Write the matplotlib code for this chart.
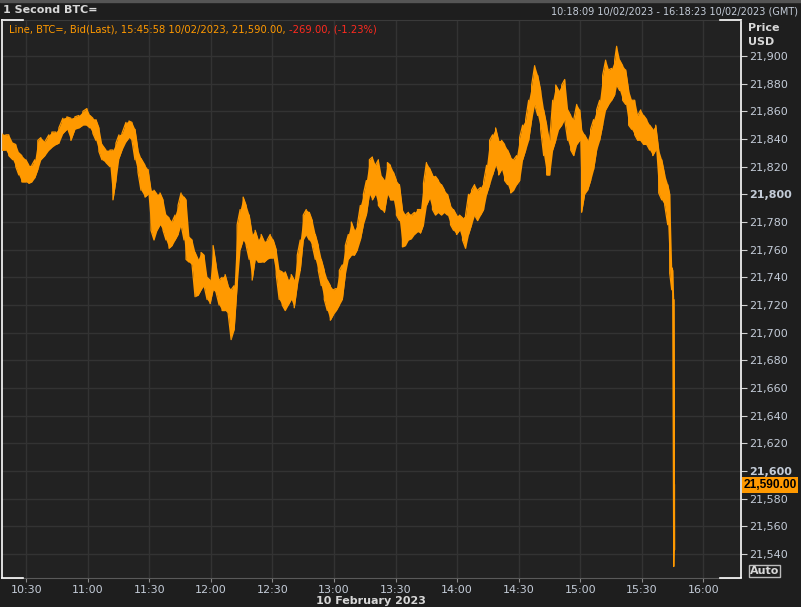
import matplotlib
matplotlib.use("Agg")
import matplotlib.pyplot as plt
import matplotlib.dates as mdates
import matplotlib.ticker as mticker
import matplotlib.transforms as mtransforms
import numpy as np
import pandas as pd

# ---------------- data ----------------
session_day = "2023-02-10"
# minutes after 10:00 GMT
minutes_after_10 = [
    18.04, 19.99, 21.46, 23.41, 24.87, 26.34, 27.80, 29.76, 31.22, 32.68,
    34.15, 35.61, 37.08, 39.03, 40.98, 42.45, 44.40, 45.87, 47.82, 49.77,
    51.72, 53.68, 55.63, 57.58, 59.53, 61.00, 62.46, 63.93, 65.39, 66.86,
    68.81, 70.76, 72.23, 73.69, 75.15, 76.62, 78.57, 80.04, 81.50, 82.97,
    84.43, 85.89, 87.85, 89.31, 90.78, 92.24, 93.71, 95.17, 96.64, 98.10,
    99.57, 101.03, 102.50, 103.96, 105.43, 106.89, 107.86, 109.33, 110.79, 112.26,
    113.72, 115.19, 116.65, 118.12, 119.58, 121.05, 122.51, 123.98, 125.44, 126.91,
    128.37, 129.84, 131.30, 132.77, 134.23, 135.70, 137.16, 138.63, 140.09, 141.56,
    143.02, 144.49, 145.95, 147.42, 148.88, 150.35, 151.81, 153.28, 154.74, 156.21,
    157.67, 159.14, 160.60, 162.07, 163.53, 165.00, 166.46, 167.93, 169.39, 170.86,
    172.32, 173.79, 175.25, 176.72, 178.18, 179.65, 181.11, 182.58, 184.04, 185.51,
    186.97, 188.44, 189.90, 191.37, 192.83, 194.30, 195.76, 197.23, 198.69, 200.16,
    201.62, 203.09, 204.55, 206.02, 207.48, 208.95, 210.41, 211.88, 213.34, 214.81,
    216.27, 217.74, 219.20, 220.67, 222.13, 223.60, 225.06, 226.53, 227.99, 229.46,
    230.92, 232.39, 233.85, 235.32, 236.78, 238.25, 239.71, 241.18, 242.64, 244.11,
    245.57, 247.04, 248.50, 249.97, 251.43, 252.90, 254.36, 255.83, 257.29, 258.76,
    260.22, 261.69, 263.15, 264.62, 266.08, 267.55, 269.01, 270.48, 271.94, 273.41,
    274.87, 276.34, 277.80, 279.27, 280.73, 282.20, 283.66, 285.13, 286.59, 288.06,
    289.52, 290.99, 292.45, 293.92, 295.38, 296.85, 298.31, 299.78, 300.68, 302.15,
    303.61, 305.08, 306.54, 308.01, 309.47, 310.94, 312.40, 313.87, 315.33, 316.80,
    317.77, 319.23, 320.70, 322.16, 323.63, 325.09, 326.56, 328.02, 329.49, 330.95,
    332.42, 333.88, 335.35, 336.81, 338.28, 339.74, 341.21, 342.67, 343.64, 344.62,
    345.11, 345.60, 345.97,
]
price_high = [
    21844, 21843, 21843, 21837, 21836, 21830, 21828, 21825, 21821, 21821,
    21825, 21839, 21841, 21838, 21843, 21845, 21845, 21848, 21855, 21856,
    21855, 21856, 21857, 21860, 21862, 21857, 21855, 21854, 21848, 21836,
    21832, 21832, 21832, 21837, 21843, 21844, 21852, 21853, 21852, 21847,
    21832, 21826, 21821, 21818, 21803, 21803, 21800, 21801, 21796, 21785,
    21783, 21780, 21785, 21792, 21801, 21798, 21796, 21769, 21767, 21758,
    21753, 21758, 21756, 21740, 21738, 21763, 21749, 21738, 21740, 21742,
    21734, 21731, 21734, 21778, 21789, 21798, 21792, 21785, 21771, 21774,
    21767, 21771, 21766, 21767, 21771, 21767, 21760, 21745, 21744, 21744,
    21738, 21742, 21738, 21756, 21767, 21785, 21789, 21787, 21781, 21771,
    21763, 21753, 21745, 21738, 21734, 21731, 21732, 21745, 21749, 21763,
    21771, 21780, 21774, 21778, 21792, 21800, 21810, 21825, 21827, 21821,
    21825, 21813, 21810, 21823, 21821, 21816, 21810, 21807, 21789, 21785,
    21787, 21785, 21787, 21789, 21789, 21808, 21823, 21819, 21814, 21813,
    21810, 21807, 21803, 21800, 21792, 21789, 21785, 21785, 21783, 21785,
    21800, 21803, 21807, 21803, 21805, 21809, 21821, 21839, 21843, 21848,
    21839, 21839, 21836, 21832, 21827, 21825, 21828, 21841, 21850, 21854,
    21868, 21879, 21893, 21886, 21875, 21861, 21850, 21839, 21868, 21879,
    21875, 21879, 21883, 21861, 21857, 21854, 21865, 21861, 21847, 21843,
    21839, 21847, 21854, 21861, 21868, 21886, 21897, 21890, 21891, 21897,
    21907, 21897, 21893, 21890, 21875, 21868, 21868, 21857, 21861, 21857,
    21854, 21850, 21847, 21850, 21832, 21825, 21814, 21807, 21800, 21747,
    21745, 21724, 21590,
]
price_low = [
    21832, 21832, 21828, 21825, 21820, 21814, 21809, 21809, 21808, 21809,
    21812, 21818, 21825, 21828, 21832, 21834, 21836, 21837, 21844, 21847,
    21839, 21847, 21848, 21850, 21850, 21848, 21844, 21839, 21831, 21825,
    21823, 21820, 21796, 21810, 21826, 21832, 21838, 21841, 21839, 21825,
    21816, 21803, 21798, 21800, 21774, 21767, 21774, 21778, 21774, 21767,
    21761, 21763, 21767, 21771, 21778, 21767, 21753, 21751, 21749, 21726,
    21727, 21731, 21734, 21724, 21721, 21731, 21729, 21720, 21716, 21716,
    21714, 21695, 21702, 21734, 21760, 21767, 21763, 21753, 21738, 21753,
    21751, 21751, 21751, 21753, 21754, 21754, 21742, 21724, 21720, 21716,
    21720, 21724, 21718, 21734, 21745, 21767, 21771, 21767, 21763, 21753,
    21745, 21734, 21724, 21716, 21709, 21713, 21716, 21720, 21724, 21742,
    21753, 21756, 21756, 21760, 21767, 21778, 21785, 21800, 21796, 21800,
    21792, 21789, 21787, 21800, 21796, 21796, 21785, 21781, 21762, 21763,
    21767, 21768, 21771, 21773, 21772, 21778, 21792, 21797, 21789, 21785,
    21787, 21785, 21787, 21785, 21778, 21774, 21771, 21774, 21767, 21761,
    21771, 21778, 21785, 21781, 21785, 21789, 21800, 21807, 21814, 21821,
    21814, 21818, 21810, 21807, 21801, 21803, 21807, 21810, 21825, 21832,
    21839, 21854, 21865, 21857, 21847, 21828, 21814, 21814, 21832, 21839,
    21847, 21850, 21854, 21839, 21832, 21828, 21836, 21839, 21787, 21800,
    21803, 21810, 21818, 21832, 21839, 21850, 21861, 21865, 21868, 21872,
    21879, 21875, 21868, 21865, 21850, 21847, 21843, 21839, 21839, 21836,
    21836, 21832, 21828, 21832, 21801, 21796, 21792, 21778, 21743, 21731,
    21724, 21531, 21543,
]
last_price = 21590.00
change_abs = -269.00
change_pct = -1.23
y_ticks = [21540, 21560, 21580, 21600, 21620, 21640, 21660, 21680, 21700,
           21720, 21740, 21760, 21780, 21800, 21820, 21840, 21860, 21880, 21900]
bold_ticks = [21600, 21800]
range_start = "10:18:09"
range_end = "16:18:23"
last_time = "15:45:58"
# -----------------------------------------------------------------

base = pd.Timestamp(session_day + " 10:00:00")
t = base + pd.to_timedelta(np.array(minutes_after_10), unit="min")
tn = mdates.date2num(t.to_pydatetime())
hi = np.array(price_high, float)
lo = np.array(price_low, float)

# jagged trace: alternate between high and low at each sampled time
zx, zy = [], []
for i in range(len(tn)):
    if i == len(tn) - 1:
        zx += [tn[i], tn[i]]
        zy += [lo[i], last_price]
        break
    if i % 2 == 0:
        zx += [tn[i], tn[i]]; zy += [hi[i], lo[i]]
    else:
        zx += [tn[i], tn[i]]; zy += [lo[i], hi[i]]

BG = "#222222"
OUT = "#1e1e1e"
GRID = "#333333"
TXT = "#c4ccd8"
ORANGE = "#ff9900"
RED = "#ff2a1f"
plt.rcParams["font.family"] = ["DejaVu Sans"]

fig = plt.figure(figsize=(8.01, 6.07), dpi=100, facecolor=OUT)
L, R, T, B = 2/801, 741/801, 1-20/607, 1-578/607
ax = fig.add_axes([L, B, R-L, T-B], facecolor=BG)

ax.fill_between(tn, lo, hi, color=ORANGE, linewidth=0, zorder=3)
ax.plot(zx, zy, color=ORANGE, linewidth=0.9, zorder=4)

x0 = mdates.date2num(pd.Timestamp(session_day + " " + range_start).to_pydatetime())
x1 = mdates.date2num(pd.Timestamp(session_day + " " + range_end).to_pydatetime())
ax.set_xlim(x0, x1)
ax.set_ylim(21522.7, 21926.0)

ax.xaxis.set_major_locator(mdates.MinuteLocator(byminute=[0, 30]))
ax.xaxis.set_major_formatter(mdates.DateFormatter("%H:%M"))
ax.yaxis.tick_right()
ax.set_yticks(y_ticks)
ax.yaxis.set_major_formatter(mticker.FuncFormatter(lambda v, p: f"{v:,.0f}"))
ax.grid(True, color=GRID, linewidth=1.0, zorder=0)
ax.set_axisbelow(True)

ax.tick_params(axis="x", colors="#8a8a8a", labelcolor=TXT, labelsize=8, length=3, pad=2, direction="out")
ax.tick_params(axis="y", colors="#d0d0d0", labelcolor=TXT, labelsize=8, length=4, pad=2, direction="out")
fig.canvas.draw()
for v, lab in zip(ax.get_yticks(), ax.get_yticklabels()):
    if v in bold_ticks:
        lab.set_fontweight("bold")

for s in ["left", "right"]:
    ax.spines[s].set_color("white")
    ax.spines[s].set_linewidth(1.2)
ax.spines["top"].set_color("#3a3a3a")
ax.spines["bottom"].set_color("#5a5a5a")

# corner brackets
cw = 21 / (741 - 2)
for xs in ([0, cw], [1 - cw, 1]):
    for yv in (0, 1):
        ax.plot(xs, [yv, yv], color="white", lw=1.2, transform=ax.transAxes, clip_on=False, zorder=6)

# last price tag
trans = mtransforms.blended_transform_factory(ax.transAxes, ax.transData)
ax.text(1.003, last_price, f"{last_price:,.2f}", transform=trans, ha="left", va="center",
        fontsize=8.6, fontweight="bold", color="black", family=["Liberation Sans", "DejaVu Sans"],
        bbox=dict(boxstyle="square,pad=0.14", fc=ORANGE, ec="none"), zorder=10, clip_on=False)

# header
fig.patches.append(plt.Rectangle((0, 1 - 1.5/607), 1, 1.5/607, transform=fig.transFigure, color="#555555"))
fig.text(3/801, 1 - 10/607, "1 Second BTC=", color="#d8d8d8", fontsize=8, fontweight="bold", va="center", ha="left")
fig.text(798/801, 1 - 11/607, f"{range_start} 10/02/2023 - {range_end} 10/02/2023 (GMT)",
         color=TXT, fontsize=7, va="center", ha="right")
leg = f"Line, BTC=, Bid(Last), {last_time} 10/02/2023, {last_price:,.2f}, "
t1 = fig.text(9/801, 1 - 29/607, leg, color=ORANGE, fontsize=7.2, va="center", ha="left")
fig.canvas.draw()
bb = t1.get_window_extent()
fig.text(bb.x1 / fig.bbox.width, 1 - 29/607, f"{change_abs:,.2f}, ({change_pct:.2f}%)",
         color=RED, fontsize=7.2, va="center", ha="left")

fig.text(748/801, 1 - 28/607, "Price", color="#d8d8d8", fontsize=8, fontweight="bold", va="center")
fig.text(748/801, 1 - 42/607, "USD", color="#d8d8d8", fontsize=8, fontweight="bold", va="center")
fig.text(750/801, 1 - 571/607, "Auto", color="#d8d8d8", fontsize=8, fontweight="bold", va="center",
         bbox=dict(boxstyle="square,pad=0.1", fc="none", ec="#bbbbbb", lw=1))
fig.text(371/801, 1 - 601/607, "10 February 2023", color="#d8d8d8", fontsize=8, fontweight="bold",
         va="center", ha="center")

fig.savefig("out.png", dpi=100, facecolor=OUT)
